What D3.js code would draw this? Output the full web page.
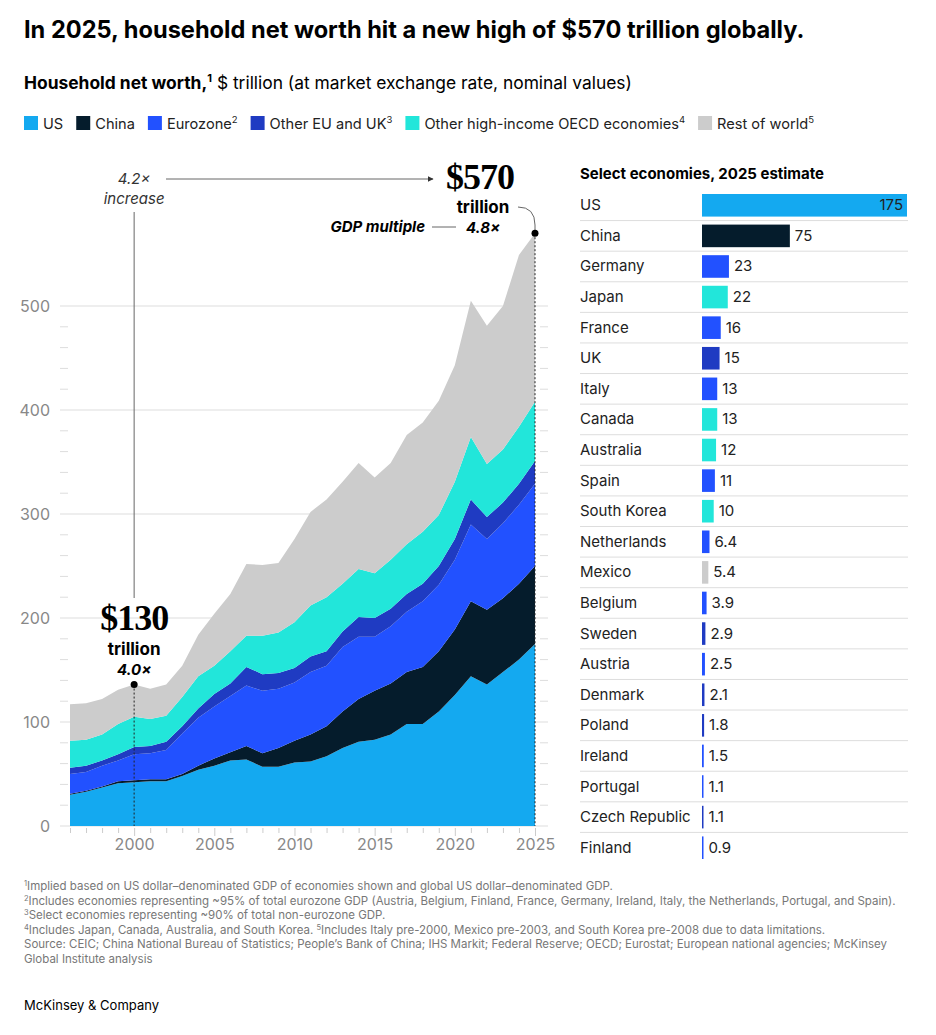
<!DOCTYPE html>
<html><head><meta charset="utf-8">
<script src="https://cdn.jsdelivr.net/npm/d3@7/dist/d3.min.js"></script>
<style>body{margin:0;background:#fff;font-family:"Inter","Liberation Sans",sans-serif;}</style>
</head><body>
<script>
const years = d3.range(1996, 2026);
const us      = [30,33,37,41,42,43,43,48,54,58,63,64,57,57,61,62,67,75,81,83,88,98,98,110,126,144,136,148,160,175];
const china   = [1,1,1,2,2,2,2,2,4,7,8,13,13,18,21,26,29,35,41,47,49,50,55,58,63,72,72,71,73,75];
const euro    = [19,18,20,20,25,25,28,39,46,50,54,58,60,57,56,60,58,62,60,52,55,58,63,64,67,74,68,72,76,79];
const otherEU = [6,6,5,6,7,7,8,7,9,12,12,18,16,15,14,15,14,15,19,18,17,17,17,18,20,24,21,20,20,22];
const oecd    = [26,25,25,29,29,26,25,28,31,27,31,30,37,39,44,49,52,46,46,43,47,48,50,49,55,60,51,51,55,57];
const rest    = [35,35,34,33,31,29,30,30,40,50,55,69,68,67,80,90,94,98,102,92,93,105,105,110,112,131,133,138,165,162];
const seriesNames = ["US","China","Eurozone","Other EU and UK","Other high-income OECD economies","Rest of world"];
const seriesSup = ["","","2","3","4","5"];
const colors = ["#14a9f0","#051c2c","#2251ff","#1f3bc2","#22e6da","#cccccc"];

const countries = ["US","China","Germany","Japan","France","UK","Italy","Canada","Australia","Spain","South Korea","Netherlands","Mexico","Belgium","Sweden","Austria","Denmark","Poland","Ireland","Portugal","Czech Republic","Finland"];
const countryVals = [175,75,23,22,16,15,13,13,12,11,10,6.4,5.4,3.9,2.9,2.5,2.1,1.8,1.5,1.1,1.1,0.9];
const countryGroup = [0,1,2,4,2,3,2,4,4,2,4,2,5,2,3,2,3,3,2,2,3,2];

const W = 936, H = 1035;
const svg = d3.select("body").append("svg").attr("width", W).attr("height", H);

svg.append("text").attr("x", 24).attr("y", 38).attr("font-size", 23.6).attr("font-weight", 700).attr("fill", "#000")
  .text("In 2025, household net worth hit a new high of $570 trillion globally.");
const sub = svg.append("text").attr("x", 24).attr("y", 89).attr("font-size", 17.4).attr("fill", "#000");
sub.append("tspan").attr("font-weight", 700).text("Household net worth,");
sub.append("tspan").attr("font-weight", 700).attr("font-size", 11).attr("dy", -7).text("1");
sub.append("tspan").attr("dy", 7).text(" $ trillion (at market exchange rate, nominal values)");

// legend
let lx = 24;
seriesNames.forEach((n, i) => {
  const g = svg.append("g").attr("transform", `translate(${lx},116)`);
  g.append("rect").attr("width", 14).attr("height", 14).attr("fill", colors[i]);
  const t = g.append("text").attr("x", 19).attr("y", 13).attr("font-size", 14.6).attr("fill", "#222");
  t.append("tspan").text(n);
  if (seriesSup[i]) t.append("tspan").attr("font-size", 9.5).attr("dy", -6).text(seriesSup[i]);
  lx += 19 + t.node().getComputedTextLength() + 13;
});

// area chart
const x = d3.scaleLinear().domain([1996, 2025]).range([70, 535]);
const y = d3.scaleLinear().domain([0, 500]).range([826, 306]);

y.ticks(24).forEach(v => {
  if (v > 550) return;
  if (v % 100 === 0) {
    svg.append("line").attr("x1", 60).attr("x2", 548).attr("y1", y(v)).attr("y2", y(v)).attr("stroke", "#ddd");
    svg.append("text").attr("x", 50).attr("y", y(v) + 6).attr("text-anchor", "end").attr("font-size", 16).attr("fill", "#888").text(v);
  } else {
    [[60, 68], [540, 548]].forEach(([a, b]) =>
      svg.append("line").attr("x1", a).attr("x2", b).attr("y1", y(v)).attr("y2", y(v)).attr("stroke", "#ddd"));
  }
});

const table = years.map((yr, i) => ({year: yr, s0: us[i], s1: china[i], s2: euro[i], s3: otherEU[i], s4: oecd[i], s5: rest[i]}));
const stack = d3.stack().keys(["s0","s1","s2","s3","s4","s5"])(table);
const area = d3.area().x(d => x(d.data.year)).y0(d => y(d[0])).y1(d => y(d[1]));
svg.selectAll("path.layer").data(stack).join("path").attr("class", "layer")
  .attr("d", area).attr("fill", (d, i) => colors[i]);

const xAxis = svg.append("g").attr("transform", "translate(0,828)")
  .call(d3.axisBottom(x).tickValues(years).tickSize(5).tickFormat(d => d % 5 === 0 ? d : ""));
xAxis.select(".domain").remove();
xAxis.selectAll("line").attr("stroke", "#ccc");
xAxis.selectAll(".tick").filter(d => d % 5 === 0).select("line").attr("y2", 8);
xAxis.selectAll("text").attr("font-size", 16).attr("fill", "#888").attr("font-family", "Inter, sans-serif").attr("dy", "0.9em");

// annotations
const total = i => us[i] + china[i] + euro[i] + otherEU[i] + oecd[i] + rest[i];
const i00 = years.indexOf(2000), i25 = years.indexOf(2025);
const serif = "Liberation Serif, DejaVu Serif, serif";
svg.append("text").attr("x", x(2000)).attr("y", 184).attr("text-anchor", "middle").attr("font-size", 15).attr("font-style", "italic").attr("fill", "#333").text("4.2×");
svg.append("text").attr("x", x(2000)).attr("y", 204).attr("text-anchor", "middle").attr("font-size", 15).attr("font-style", "italic").attr("fill", "#333").text("increase");
svg.append("defs").append("marker").attr("id", "ar").attr("viewBox", "0 0 10 10").attr("refX", 9).attr("refY", 5)
  .attr("markerWidth", 6).attr("markerHeight", 6).attr("orient", "auto")
  .append("path").attr("d", "M0,0L10,5L0,10z").attr("fill", "#333");
svg.append("line").attr("x1", 166).attr("x2", 433).attr("y1", 179).attr("y2", 179).attr("stroke", "#666").attr("marker-end", "url(#ar)");
svg.append("line").attr("x1", x(2000)).attr("x2", x(2000)).attr("y1", 212).attr("y2", 598).attr("stroke", "#666");
svg.append("text").attr("x", x(2000)).attr("y", 630).attr("text-anchor", "middle").attr("font-size", 36).attr("font-weight", 700).attr("font-family", serif).attr("letter-spacing", -1).text("$130");
svg.append("text").attr("x", x(2000)).attr("y", 655).attr("text-anchor", "middle").attr("font-size", 17).attr("font-weight", 700).text("trillion");
svg.append("text").attr("x", x(2000)).attr("y", 675).attr("text-anchor", "middle").attr("font-size", 15).attr("font-weight", 700).attr("font-style", "italic").text("4.0×");
svg.append("line").attr("x1", x(2000)).attr("x2", x(2000)).attr("y1", y(total(i00))).attr("y2", 826).attr("stroke", "#222").attr("stroke-dasharray", "2,2");
svg.append("circle").attr("cx", x(2000)).attr("cy", y(total(i00))).attr("r", 3.5).attr("fill", "#000");

svg.append("text").attr("x", 480).attr("y", 189).attr("text-anchor", "middle").attr("font-size", 36).attr("font-weight", 700).attr("font-family", serif).attr("letter-spacing", -1).text("$570");
svg.append("text").attr("x", 483).attr("y", 213).attr("text-anchor", "middle").attr("font-size", 17).attr("font-weight", 700).text("trillion");
svg.append("text").attr("x", 425).attr("y", 232).attr("text-anchor", "end").attr("font-size", 15).attr("font-weight", 700).attr("font-style", "italic").text("GDP multiple");
svg.append("line").attr("x1", 432).attr("x2", 456).attr("y1", 227).attr("y2", 227).attr("stroke", "#666");
svg.append("text").attr("x", 483).attr("y", 233).attr("text-anchor", "middle").attr("font-size", 15).attr("font-weight", 700).attr("font-style", "italic").text("4.8×");
svg.append("path").attr("d", `M518,207 Q535,207 535,225 L535,${y(total(i25))}`).attr("fill", "none").attr("stroke", "#666");
svg.append("line").attr("x1", 535).attr("x2", 535).attr("y1", y(total(i25))).attr("y2", 826).attr("stroke", "#222").attr("stroke-dasharray", "2,2");
svg.append("circle").attr("cx", 535).attr("cy", y(total(i25))).attr("r", 3.5).attr("fill", "#000");

// right bar panel
svg.append("text").attr("x", 580).attr("y", 179).attr("font-size", 15).attr("font-weight", 700).text("Select economies, 2025 estimate");
const rowY = d3.scaleBand().domain(countries).range([190, 863]).paddingInner(0);
const bx = d3.scaleLinear().domain([0, 175]).range([702, 907]);
const rows = svg.selectAll("g.row").data(countries).join("g").attr("class", "row")
  .attr("transform", d => `translate(0,${rowY(d)})`);
const bh = rowY.bandwidth();
rows.filter((d, i) => i < countries.length - 1).append("line").attr("x1", 580).attr("x2", 908).attr("y1", bh).attr("y2", bh).attr("stroke", "#ddd");
rows.append("text").attr("x", 580).attr("y", bh / 2 + 5).attr("font-size", 15).attr("fill", "#222").text(d => d);
rows.append("rect").attr("x", bx(0)).attr("y", 4).attr("height", bh - 8)
  .attr("width", (d, i) => Math.max(1.5, bx(countryVals[i]) - bx(0))).attr("fill", (d, i) => colors[countryGroup[i]]);
rows.append("text").attr("y", bh / 2 + 5).attr("font-size", 15).attr("fill", "#222")
  .attr("x", (d, i) => i === 0 ? bx(countryVals[i]) - 4 : Math.max(bx(0) + 1.5, bx(countryVals[i])) + 5)
  .attr("text-anchor", (d, i) => i === 0 ? "end" : "start")
  .text((d, i) => countryVals[i]);

// footnotes
const notes = [
  [["1","Implied based on US dollar–denominated GDP of economies shown and global US dollar–denominated GDP."]],
  [["2","Includes economies representing ~95% of total eurozone GDP (Austria, Belgium, Finland, France, Germany, Ireland, Italy, the Netherlands, Portugal, and Spain)."]],
  [["3","Select economies representing ~90% of total non-eurozone GDP."]],
  [["4","Includes Japan, Canada, Australia, and South Korea. "],["5","Includes Italy pre-2000, Mexico pre-2003, and South Korea pre-2008 due to data limitations."]],
  [["","Source: CEIC; China National Bureau of Statistics; People’s Bank of China; IHS Markit; Federal Reserve; OECD; Eurostat; European national agencies; McKinsey"]],
  [["","Global Institute analysis"]]
];
notes.forEach((parts, k) => {
  const t = svg.append("text").attr("x", 24).attr("y", 890 + k * 14.6).attr("font-size", 11.5).attr("fill", "#777");
  parts.forEach(([s, txt]) => {
    if (s) { t.append("tspan").attr("font-size", 7.5).attr("dy", -4).text(s); t.append("tspan").attr("dy", 4).text(txt); }
    else t.append("tspan").text(txt);
  });
});
svg.append("text").attr("x", 24).attr("y", 1010).attr("font-size", 13).attr("fill", "#000").text("McKinsey & Company");
</script>
</body></html>
